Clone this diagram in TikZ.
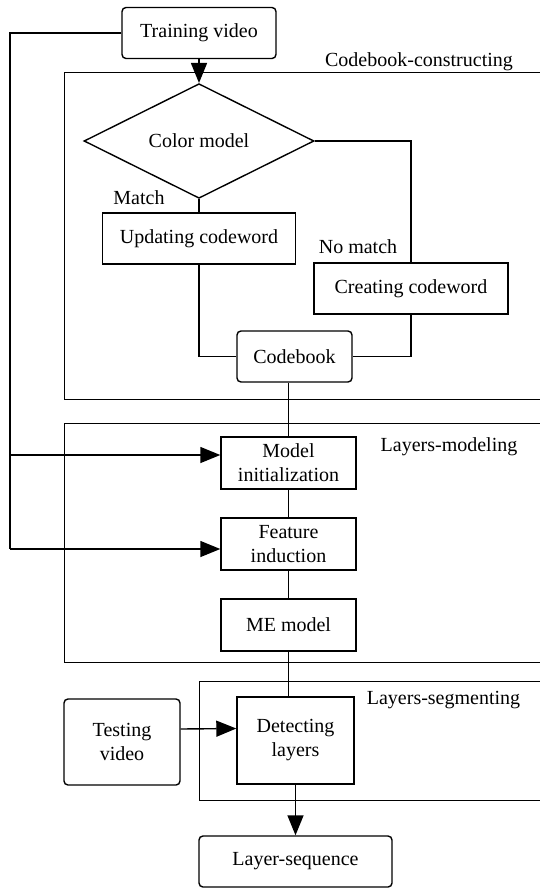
\documentclass[tikz,border=0pt]{standalone}
\usepackage{fontspec}
\setmainfont{Liberation Serif}
\usetikzlibrary{shapes.geometric,arrows.meta}

\tikzset{
  box/.style={draw, rectangle, line width=0.7pt, inner sep=0pt, align=center},
  rbox/.style={box, rounded corners=2pt},
  frame/.style={draw, line width=0.5pt},
  arr/.style={-{Triangle[length=10pt,width=8pt]}}
}

\begin{document}
\begin{tikzpicture}[x=0.5pt,y=-0.5pt,line width=0.7pt]

      \useasboundingbox (0,0) rectangle (540,888);

      \draw[frame] (64,73) rectangle (560,399);
      \draw[frame] (64,423) rectangle (560,662);
      \draw[frame] (199,681) rectangle (560,800);

      \node (cbtitle)  at (419,62)  {Codebook-constructing};
      \node (lmtitle)  at (449,447) {Layers-modeling};
      \node (lstitle)  at (443.5,700) {Layers-segmenting};

      \begin{scope}[every node/.style={box, minimum height=25.5pt}]
        \node[rbox, minimum width=77pt] (train)  at (199,33)    {Training video};
        \node[minimum width=96.5pt]     (upd)    at (199,238.5) {Updating codeword};
        \node[minimum width=97pt]       (create) at (411,288.5) {Creating codeword};
        \node[rbox, minimum width=57.5pt] (cb)   at (294.5,356.5) {Codebook};
        \node[minimum width=67.5pt, minimum height=26pt] (init) at (288.5,463) {Model\\initialization};
        \node[minimum width=67.5pt, minimum height=26pt] (feat) at (288.5,544) {Feature\\induction};
        \node[minimum width=67.5pt, minimum height=26pt] (me)   at (288.5,625) {ME model};
        \node[rbox, minimum width=58pt, minimum height=43pt] (testv)  at (122,742)     {Testing\\video};
        \node[minimum width=58.5pt, minimum height=43.5pt]   (detect) at (295.5,740.5) {Detecting\\layers};
        \node[rbox, minimum width=96.5pt] (seq)  at (295.5,861.5) {Layer-sequence};
      \end{scope}

      \node[draw, diamond, line width=0.7pt, inner sep=0pt,
            minimum width=115pt, minimum height=34.5pt] (color) at (199,141) {Color model};

      \node (match)   at (139,198) {Match};
      \node (nomatch) at (358,247) {No match};

      \coordinate (lft) at (10,549);

      \draw[arr] (train) -- (color);
      \draw (color.south) -- (upd.north);
      \draw (color.east) -| (create.north);
      \draw (upd.south) |- (cb.west);
      \draw (create.south) |- (cb.east);
      \draw (init.north |- cb.south) -- (init.north);
      \draw (init) -- (feat);
      \draw (feat) -- (me);
      \draw (me.south) -- (me.south |- detect.north);
      \draw (train.west) -| (lft);
      \draw[arr] (lft |- 0,455) -- (init.west |- 0,455);
      \draw[arr] (lft) -- (feat.west |- lft);
      \draw[arr] ([yshift=6.5pt]testv.east) -- ([yshift=6pt]detect.west);
      \draw[arr] (detect) -- (seq);

    \end{tikzpicture}
\end{document}
